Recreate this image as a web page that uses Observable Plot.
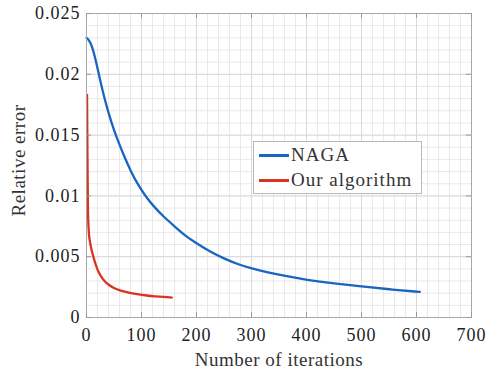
<!DOCTYPE html>
<html>
<head>
<meta charset="utf-8">
<script src="https://cdn.jsdelivr.net/npm/d3@7"></script>
<script src="https://cdn.jsdelivr.net/npm/@observablehq/plot@0.6"></script>
<style>
  body { margin: 0; background: #fff; }
  #wrap { position: relative; width: 493px; height: 371px; }
  #legend { position: absolute; left: 253px; top: 141px; width: 169px; height: 53px; box-sizing: border-box;
    border: 1px solid #b8b8b8; background: #fff; font-family: "Liberation Serif", "DejaVu Serif", serif; font-size: 19px; letter-spacing: 1px; color: #333; }
  .row { position: absolute; left: 0; height: 22px; }
  .swatch { position: absolute; left: 5px; width: 30px; height: 2.5px; }
  .lab { position: absolute; left: 37px; top: 0; white-space: nowrap; line-height: 22px; }
</style>
</head>
<body>
<div id="wrap"><div id="legend"></div></div>
<script>
// Series names and colours
const seriesNames = ["NAGA", "Our algorithm"];
const seriesColors = ["#1a64c2", "#dc3220"];

// NAGA
const nagaX = [0, 5, 10, 15, 20, 25, 30, 40, 50, 60, 70, 80, 90, 100, 110, 125, 140, 160, 180, 200, 225, 250, 275, 300, 330, 360, 400, 450, 500, 550, 606];
const nagaY = [0.0230, 0.0228, 0.0223, 0.0215, 0.0205, 0.0195, 0.0185, 0.0168, 0.0154, 0.0142, 0.0131, 0.0121, 0.0112, 0.0105, 0.0098, 0.0090, 0.0083, 0.0075, 0.0067, 0.0061, 0.0054, 0.00485, 0.00438, 0.00403, 0.0037, 0.00342, 0.0031, 0.0028, 0.00255, 0.00232, 0.0021];

// Our algorithm
const ourX = [1, 1.5, 2, 2.5, 3, 4, 5, 6, 8, 10, 13, 17, 21, 26, 32, 40, 50, 60, 75, 92, 110, 125, 140, 155];
const ourY = [0.0183, 0.0148, 0.0118, 0.0092, 0.0080, 0.0071, 0.0066, 0.0063, 0.0058, 0.0054, 0.0049, 0.0043, 0.0038, 0.0034, 0.0030, 0.00268, 0.00242, 0.00223, 0.00205, 0.00191, 0.0018, 0.00174, 0.00169, 0.00164];

// Ticks
const xTicks = [0, 100, 200, 300, 400, 500, 600, 700];
const yTicks = [0, 0.005, 0.01, 0.015, 0.02, 0.025];
const xLabel = "Number of iterations";
const yLabel = "Relative error";

const W = 493, H = 371;
const M = {top: 13, right: 22, bottom: 54, left: 86};
const frameW = W - M.left - M.right, frameH = H - M.top - M.bottom;
const serif = "'Liberation Serif', 'DejaVu Serif', serif";

const xMinor = d3.range(0, 701, 20);
const yMinor = d3.range(0, 25.5, 1).map(v => v / 1000);

const naga = nagaX.map((x, i) => ({x, y: nagaY[i]}));
const ours = ourX.map((x, i) => ({x, y: ourY[i]}));

const chart = Plot.plot({
  width: W, height: H,
  marginTop: M.top, marginRight: M.right, marginBottom: M.bottom, marginLeft: M.left,
  style: {fontFamily: serif, fontSize: "18px", color: "#222", background: "#fff"},
  x: {domain: [0, 700]},
  y: {domain: [0, 0.025]},
  marks: [
    Plot.ruleX(xMinor, {x: d => d, stroke: "#e9e9e9", strokeWidth: 1}),
    Plot.ruleY(yMinor, {y: d => d, stroke: "#e9e9e9", strokeWidth: 1}),
    Plot.ruleX(xTicks, {x: d => d, stroke: "#d9d9d9", strokeWidth: 1}),
    Plot.ruleY(yTicks, {y: d => d, stroke: "#d9d9d9", strokeWidth: 1}),
    Plot.line(naga, {x: "x", y: "y", stroke: seriesColors[0], strokeWidth: 2.3, curve: "basis"}),
    Plot.line(ours, {x: "x", y: "y", stroke: seriesColors[1], strokeWidth: 2.3, curve: "basis"}),
    Plot.frame({stroke: "#a8a8a8", strokeWidth: 1}),
    Plot.tickX(xTicks, {x: d => d, insetTop: frameH - 5, stroke: "#999"}),
    Plot.tickX(xTicks, {x: d => d, insetBottom: frameH - 5, stroke: "#999"}),
    Plot.tickY(yTicks, {y: d => d, insetRight: frameW - 5, stroke: "#999"}),
    Plot.tickY(yTicks, {y: d => d, insetLeft: frameW - 5, stroke: "#999"}),
    Plot.axisX(xTicks, {tickSize: 0, tickPadding: 11, label: null, fontSize: 18, fontFamily: serif, fill: "#222", tickFormat: d => String(d)}),
    Plot.axisY(yTicks, {tickSize: 0, tickPadding: 6, label: null, fontSize: 18, fontFamily: serif, fill: "#222", tickFormat: d => String(d)}),
    Plot.text([xLabel], {frameAnchor: "bottom", lineAnchor: "middle", textAnchor: "middle", dy: 42, text: d => d, fontSize: 19, fontFamily: serif, fill: "#333"}),
    Plot.text([yLabel], {frameAnchor: "left", lineAnchor: "middle", textAnchor: "middle", dx: -68, dy: -5, rotate: -90, text: d => d, fontSize: 19, fontFamily: serif, fill: "#333"})
  ]
});
chart.querySelectorAll("text").forEach(t => {
  const s = t.closest("g");
  if (s && s.getAttribute("aria-label") && /axis/.test(s.getAttribute("aria-label"))) t.style.letterSpacing = "1px";
  else t.style.letterSpacing = "0.5px";
});
document.getElementById("wrap").prepend(chart);

// Legend
const legend = d3.select("#legend");
seriesNames.forEach((name, i) => {
  const row = legend.append("div").attr("class", "row").style("top", (i === 0 ? 2 : 27) + "px").style("width", "100%");
  row.append("div").attr("class", "swatch").style("top", "10px").style("background", seriesColors[i]);
  row.append("div").attr("class", "lab").text(name);
});
</script>
</body>
</html>
